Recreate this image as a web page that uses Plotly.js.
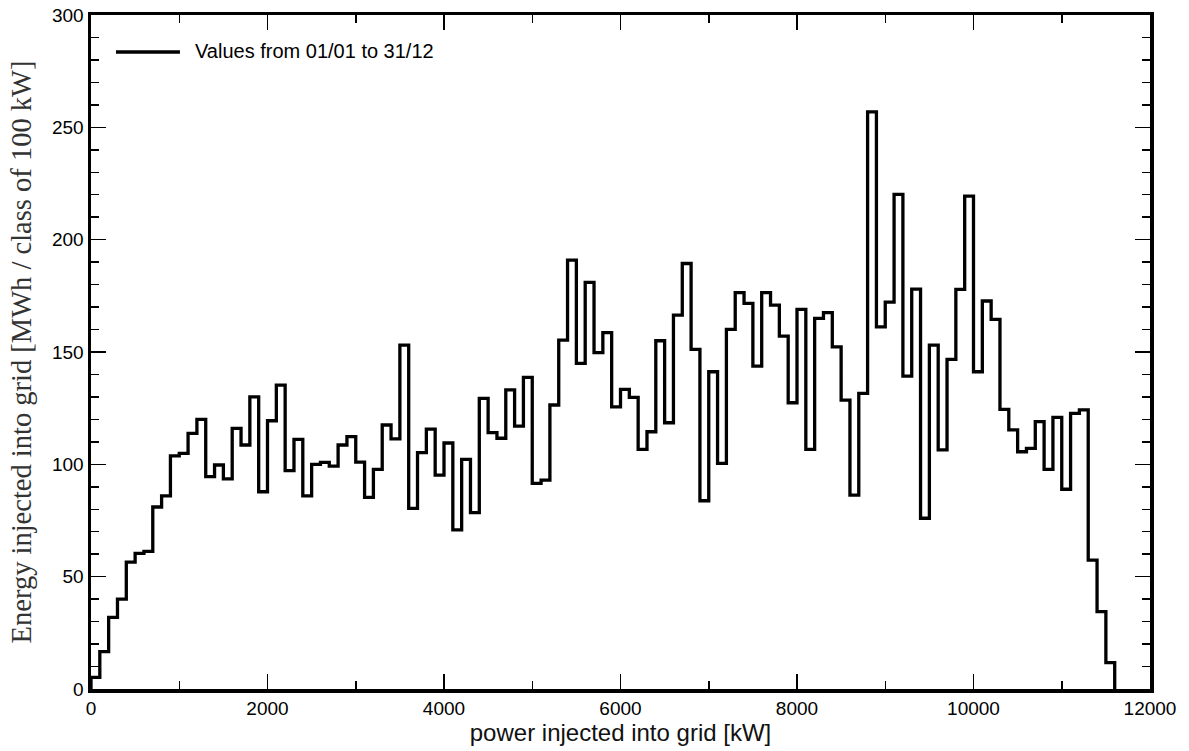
<!DOCTYPE html>
<html>
<head>
<meta charset="utf-8">
<script src="https://cdn.plot.ly/plotly-3.0.1.min.js"></script>
<style>html,body{margin:0;padding:0;background:#fff;}#chart{width:1189px;height:751px;}</style>
</head>
<body>
<div id="chart"></div>
<script>
// Energy per 100 kW power class (MWh), classes starting at 0 kW
const binWidthKW = 100;
const energyMWh = [
  5.2, 16.6, 31.9, 40.0, 56.5, 60.4, 61.3, 81.0, 86.0, 103.8,
  104.9, 113.8, 120.0, 94.5, 99.7, 93.5, 116.0, 108.6, 130.0, 87.8,
  119.4, 135.3, 97.2, 111.1, 86.0, 100.0, 100.9, 99.2, 108.6, 112.3,
  101.0, 85.3, 97.8, 117.5, 111.3, 153.1, 80.4, 105.2, 115.7, 95.2,
  109.5, 70.8, 102.2, 78.5, 129.4, 114.1, 111.6, 133.1, 117.0, 138.7,
  91.5, 93.0, 126.4, 155.3, 190.9, 144.9, 181.0, 149.7, 158.6, 125.6,
  133.4, 129.8, 106.7, 114.5, 155.0, 118.5, 166.4, 189.4, 151.2, 83.8,
  141.2, 100.4, 160.1, 176.4, 171.6, 143.7, 176.4, 170.9, 157.1, 127.4,
  169.0, 106.7, 165.0, 167.5, 152.3, 128.6, 86.3, 131.6, 256.9, 161.2,
  172.2, 220.2, 139.3, 178.0, 76.0, 153.1, 106.4, 146.7, 177.9, 219.4,
  141.2, 172.7, 164.5, 124.5, 115.3, 105.6, 107.1, 119.0, 97.8, 120.9,
  88.9, 122.7, 124.2, 57.4, 34.4, 11.7
];
const seriesName = "Values from 01/01 to 31/12";
const xTitle = "power injected into grid [kW]";
const yTitle = "Energy injected into grid [MWh / class of 100 kW]";
const xTickVals = [0, 2000, 4000, 6000, 8000, 10000, 12000];
const yTickVals = [0, 50, 100, 150, 200, 250, 300];

// step outline: from 0 up, across each class, then back down to 0
const xs = [0];
const ys = [0];
energyMWh.forEach((v, i) => { xs.push(i * binWidthKW); ys.push(v); });
const lastEdge = energyMWh.length * binWidthKW;
xs.push(lastEdge); ys.push(energyMWh[energyMWh.length - 1]);
xs.push(lastEdge); ys.push(0);

const trace = {
  x: xs, y: ys, type: 'scatter', mode: 'lines',
  line: {shape: 'hv', color: '#000', width: 3.3},
  name: seriesName, showlegend: false, hoverinfo: 'x+y'
};

const sansFont = 'Liberation Sans, Arial, sans-serif';
const axisCommon = {
  showline: true, linecolor: '#000', linewidth: 3.5, mirror: 'ticks',
  ticks: 'inside', ticklen: 15, tickwidth: 1.5, tickcolor: '#000',
  showgrid: false, zeroline: false,
  tickfont: {family: sansFont, size: 19, color: '#000'}
};

// legend drawn as a sample line + label inside the plot, upper left
const legendShape = {
  type: 'line', xref: 'paper', yref: 'paper',
  x0: 0.0236, x1: 0.084, y0: 0.945, y1: 0.945,
  line: {color: '#000', width: 3.5}
};
const legendLabel = {
  xref: 'paper', yref: 'paper', x: 0.096, y: 0.946,
  xanchor: 'left', yanchor: 'middle', showarrow: false,
  text: seriesName, font: {family: sansFont, size: 20, color: '#000'}
};

const layout = {
  width: 1189, height: 751,
  margin: {l: 91, r: 39, t: 15, b: 62, pad: 0},
  paper_bgcolor: '#fff', plot_bgcolor: '#fff',
  showlegend: false,
  shapes: [legendShape],
  annotations: [legendLabel],
  xaxis: Object.assign({}, axisCommon, {
    range: [0, 12000], tickvals: xTickVals, ticktext: xTickVals.map(String),
    minor: {ticks: 'inside', dtick: 1000, tick0: 0, ticklen: 8, tickwidth: 1.5, tickcolor: '#000'},
    title: {text: xTitle, standoff: 4,
      font: {family: sansFont, size: 24, color: '#111'}}
  }),
  yaxis: Object.assign({}, axisCommon, {
    range: [0, 300], tickvals: yTickVals, ticktext: yTickVals.map(String),
    minor: {ticks: 'inside', dtick: 10, tick0: 0, ticklen: 8, tickwidth: 1.5, tickcolor: '#000'},
    title: {text: yTitle, standoff: 13,
      font: {family: 'Liberation Serif, Times New Roman, serif', size: 28.5, color: '#333'}}
  })
};

Plotly.newPlot('chart', [trace], layout, {staticPlot: true, displayModeBar: false});
</script>
</body>
</html>
